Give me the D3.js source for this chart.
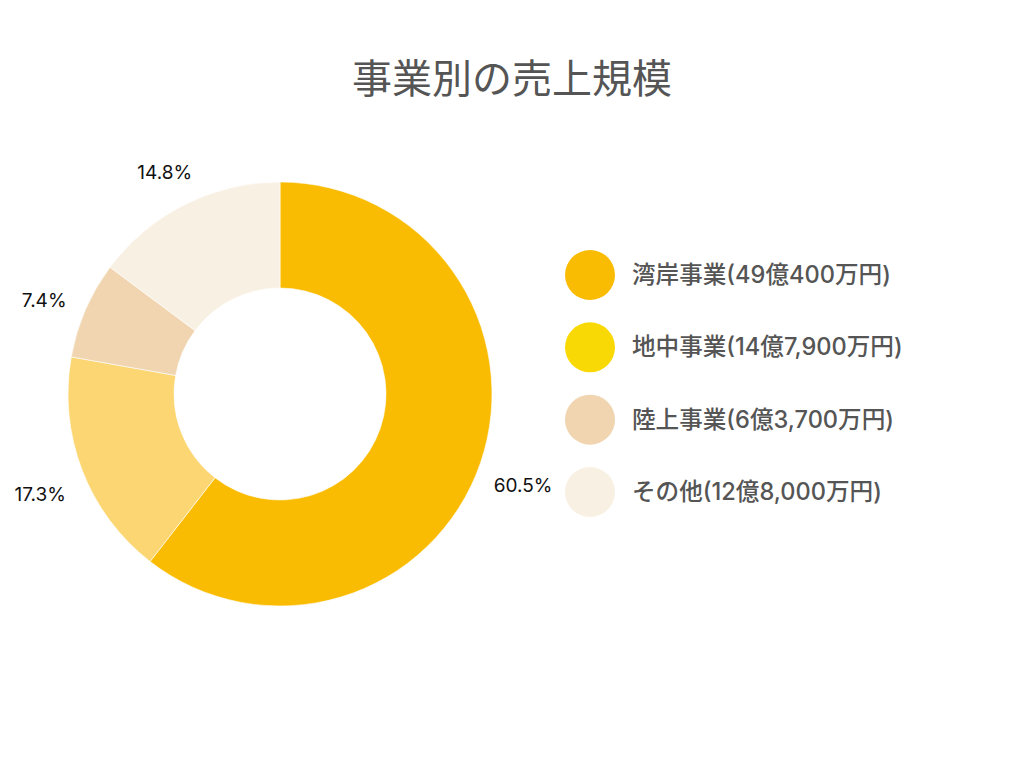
<!DOCTYPE html>
<html>
<head>
<meta charset="utf-8">
<script src="https://cdn.jsdelivr.net/npm/d3@7/dist/d3.min.js"></script>
<style>
  html, body { margin: 0; padding: 0; background: #fff; }
  svg { display: block; }
</style>
</head>
<body>
<svg id="chart" width="1024" height="768"></svg>
<script>
const title = "事業別の売上規模";
const categories = ["湾岸事業", "地中事業", "陸上事業", "その他"];
const amounts = ["49億400万円", "14億7,900万円", "6億3,700万円", "12億8,000万円"];
const percents = [60.5, 17.3, 7.4, 14.8];
const sliceColors = ["#F9BC02", "#FCD672", "#F0D5B0", "#F8F0E2"];
const legendColors = ["#F9BC02", "#F9D905", "#F0D5B0", "#F8F0E2"];

const svg = d3.select("#chart");
const cx = 280, cy = 394, outerR = 212, innerR = 106, labelR = 257;

svg.append("text")
  .attr("x", 512).attr("y", 93)
  .attr("text-anchor", "middle")
  .attr("font-family", "'Noto Sans CJK JP', sans-serif")
  .attr("font-size", 40)
  .attr("fill", "#555")
  .text(title);

const data = categories.map((c, i) => ({ name: c, value: percents[i], i }));
const pie = d3.pie().value(d => d.value).sort(null);
const arcs = pie(data);
const arc = d3.arc().innerRadius(innerR).outerRadius(outerR);
const labelArc = d3.arc().innerRadius(labelR).outerRadius(labelR);

const g = svg.append("g").attr("transform", `translate(${cx},${cy})`);
g.selectAll("path.slice").data(arcs).enter().append("path")
  .attr("class", "slice")
  .attr("d", arc)
  .attr("fill", d => sliceColors[d.data.i])
  .attr("stroke", "rgba(255,255,255,0.6)")
  .attr("stroke-width", 1);

g.selectAll("text.lbl").data(arcs).enter().append("text")
  .attr("class", "lbl")
  .attr("x", d => labelArc.centroid(d)[0])
  .attr("y", d => labelArc.centroid(d)[1])
  .attr("dy", 15)
  .attr("text-anchor", "middle")
  .attr("font-family", "Inter, 'Noto Sans', sans-serif")
  .attr("font-size", 19)
  .attr("fill", "#111")
  .text(d => d.data.value.toFixed(1) + "%");

const legendY = d3.scalePoint().domain(d3.range(categories.length)).range([275, 492]);
const lg = svg.append("g");
const items = lg.selectAll("g.item").data(data).enter().append("g")
  .attr("class", "item")
  .attr("transform", d => `translate(590,${legendY(d.i)})`);
items.append("circle").attr("r", 25).attr("fill", d => legendColors[d.i]);
items.append("text")
  .attr("x", 42).attr("y", 8)
  .attr("font-family", "Inter, 'Noto Sans CJK JP', sans-serif")
  .attr("font-size", 23.6)
  .attr("font-weight", 500)
  .attr("fill", "#555")
  .text(d => `${d.name}(${amounts[d.i]})`);
</script>
</body>
</html>
